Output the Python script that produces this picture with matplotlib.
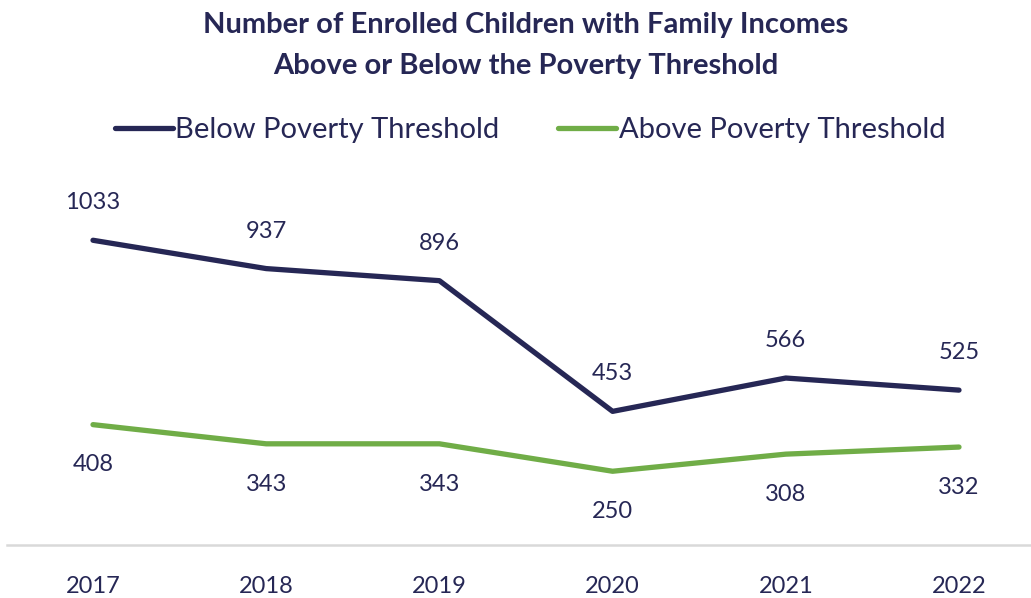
import matplotlib.pyplot as plt
import numpy as np

# enrolled children by poverty status, 2017-2022

years = ['2017', '2018', '2019', '2020', '2021', '2022']
below = [1033, 937, 896, 453, 566, 525]
above = [408, 343, 343, 250, 308, 332]

navy = '#262755'
green = '#70ad47'

plt.rcParams['font.family'] = ['Lato', 'DejaVu Sans']

W, H = 1031, 598
fig = plt.figure(figsize=(W/100, H/100), dpi=100)

# axes in pixel terms: bottom at y=545, top at y=191, left x=7
left, right, bottom, top = 7, 1031, 545, 191
ax = fig.add_axes([left/W, 1 - bottom/H, (right-left)/W, (bottom-top)/H])

x = np.arange(len(years))
ax.plot(x, below, color=navy, lw=3.8, solid_capstyle='round',
        solid_joinstyle='round', label='Below Poverty Threshold')
ax.plot(x, above, color=green, lw=3.8, solid_capstyle='round',
        solid_joinstyle='round', label='Above Poverty Threshold')

for i in x:
    ax.annotate(str(below[i]), (i, below[i]), xytext=(0, 27),
                textcoords='offset points', ha='center', va='center',
                fontsize=17, color=navy)
    ax.annotate(str(above[i]), (i, above[i]), xytext=(0, -29),
                textcoords='offset points', ha='center', va='center',
                fontsize=17, color=navy)

# spacing between categories is ~173px, first at x=93
step = 173.2
ax.set_xlim(-(93 - left)/step, (right - 93)/step)
ax.set_ylim(0, 1200)

ax.set_xticks(x)
ax.set_xticklabels(years, fontsize=17, color=navy)
ax.tick_params(axis='x', length=0, pad=22)
ax.set_yticks([])
for s in ['top', 'right', 'left']:
    ax.spines[s].set_visible(False)
ax.spines['bottom'].set_color('#d9d9d9')
ax.spines['bottom'].set_linewidth(1.8)

fig.text(526/W, 1 - 25/H, 'Number of Enrolled Children with Family Incomes',
         ha='center', va='center', fontsize=21, fontweight='bold', color=navy)
fig.text(526/W, 1 - 66/H, 'Above or Below the Poverty Threshold',
         ha='center', va='center', fontsize=21, fontweight='bold', color=navy)

fig.legend(loc='center', bbox_to_anchor=(530/W, 1 - 130/H), ncol=2,
           frameon=False, fontsize=21, labelcolor=navy,
           handlelength=2.0, handletextpad=0.08, columnspacing=2.0)

fig.savefig('out.png', dpi=100)
